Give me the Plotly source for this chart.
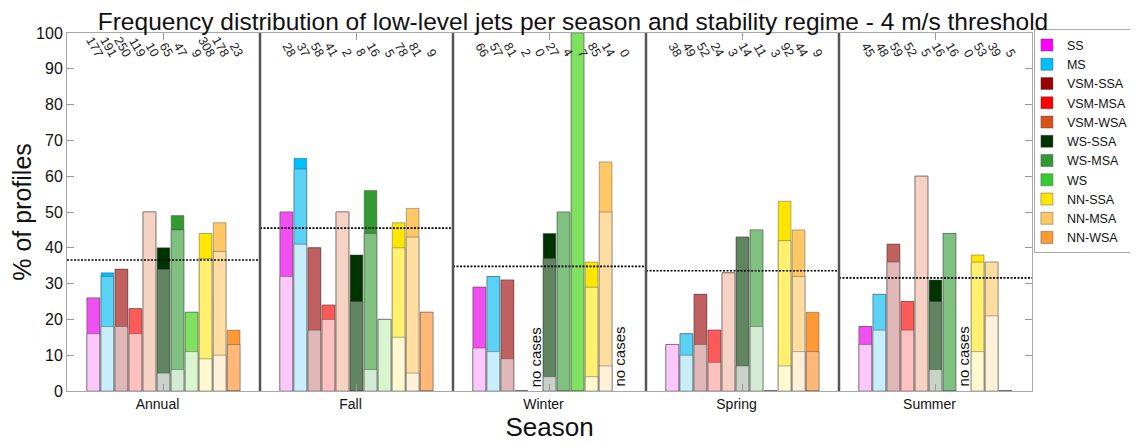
import plotly.graph_objects as go

seasons = ["Annual", "Fall", "Winter", "Spring", "Summer"]
categories = ["SS", "MS", "VSM-SSA", "VSM-MSA", "VSM-WSA", "WS-SSA",
              "WS-MSA", "WS", "NN-SSA", "NN-MSA", "NN-WSA"]

# number of profiles per season (rows) and category (columns)
counts = {
    "Annual": [177, 191, 250, 119, 10, 65, 47, 9, 308, 178, 23],
    "Fall":   [28, 37, 58, 41, 2, 8, 16, 5, 78, 81, 9],
    "Winter": [66, 57, 81, 2, 0, 27, 4, 7, 85, 14, 0],
    "Spring": [38, 49, 52, 24, 3, 14, 11, 3, 92, 44, 9],
    "Summer": [45, 48, 59, 52, 5, 16, 16, 0, 53, 39, 5],
}

# % of profiles with LLJ - three nested levels (light / medium / full tiers)
low_pct = {
    "Annual": [16, 18, 18, 16, 50, 5, 6, 11, 9, 10, 0],
    "Fall":   [32, 41, 17, 20, 50, 0, 6, 20, 15, 5, 0],
    "Winter": [12, 11, 9, 0, 0, 4, 0, 0, 4, 7, 0],
    "Spring": [13, 10, 13, 8, 33, 7, 18, 0, 7, 11, 0],
    "Summer": [13, 17, 36, 17, 60, 6, 0, 0, 11, 21, 0],
}
mid_pct = {
    "Annual": [26, 32, 34, 23, 50, 34, 45, 22, 37, 39, 13],
    "Fall":   [50, 62, 40, 24, 50, 25, 44, 20, 40, 43, 22],
    "Winter": [29, 32, 31, 0, 0, 37, 50, 100, 29, 50, 0],
    "Spring": [13, 16, 27, 17, 33, 43, 45, 0, 42, 32, 11],
    "Summer": [18, 27, 41, 25, 60, 25, 44, 0, 36, 36, 0],
}
top_pct = {
    "Annual": [26, 33, 34, 23, 50, 40, 49, 22, 44, 47, 17],
    "Fall":   [50, 65, 40, 24, 50, 38, 56, 20, 47, 51, 22],
    "Winter": [29, 32, 31, 0, 0, 44, 50, 100, 36, 64, 0],
    "Spring": [13, 16, 27, 17, 33, 43, 45, 0, 53, 45, 22],
    "Summer": [18, 27, 41, 25, 60, 31, 44, 0, 38, 36, 0],
}
# overall mean per season (dotted line)
season_mean = [36.6, 45.5, 34.8, 33.6, 31.6]

full_colors = ["#ff00ff", "#00bfff", "#990000", "#ff0000", "#d95319", "#003300",
               "#339933", "#33cc33", "#ffe600", "#ffc864", "#ff9933"]
mid_colors = ["#f050f0", "#5ad2f5", "#c06060", "#ff5a5a", "#e8946e", "#608560",
              "#80c080", "#80e060", "#fff070", "#ffdca0", "#ffb878"]
light_colors = ["#fcc8fc", "#c8eefa", "#e0b8b8", "#ffc0c0", "#f5d2c3", "#c8d2c8",
                "#d2ebd2", "#d8f5d0", "#fff8d0", "#fff0d8", "#ffd8b0"]

pitch = 0.0727
bw = 0.0658
gx = list(range(1, len(seasons) + 1))

fig = go.Figure()
edge = dict(color="rgba(60,60,60,0.4)", width=1)

for i, cat in enumerate(categories):
    xs = [g + (i - 5) * pitch for g in gx]
    def vals(d):
        return [None if counts[s][i] == 0 else d[s][i] for s in seasons]
    fig.add_trace(go.Bar(x=xs, y=vals(top_pct), width=bw, name=cat,
                         marker=dict(color=full_colors[i], line=edge),
                         showlegend=True))
    fig.add_trace(go.Bar(x=xs, y=vals(mid_pct), width=bw, showlegend=False,
                         marker=dict(color=mid_colors[i], line=edge)))
    fig.add_trace(go.Bar(x=xs, y=vals(low_pct), width=bw, showlegend=False,
                         marker=dict(color=light_colors[i], line=edge)))

# dotted seasonal mean lines
for g, m in zip(gx, season_mean):
    fig.add_trace(go.Scatter(x=[g - 0.5, g + 0.5], y=[m, m], mode="lines",
                             line=dict(color="black", width=1.6, dash="2px,1.5px"),
                             showlegend=False, hoverinfo="skip"))

annotations = []
for gi, s in enumerate(seasons):
    for i in range(len(categories)):
        x = gx[gi] + (i - 5) * pitch
        annotations.append(dict(x=x, y=91.8, text=str(counts[s][i]), showarrow=False,
                                textangle=60, xanchor="right", yanchor="bottom",
                                xshift=15, font=dict(size=12.5, color="#222")))
        if counts[s][i] == 0:
            annotations.append(dict(x=x, y=0.6, text="no cases", showarrow=False,
                                    textangle=-90, xanchor="center", yanchor="bottom",
                                    font=dict(size=15, color="#111")))

shapes = [dict(type="line", xref="x", yref="y", x0=g + 0.5, x1=g + 0.5, y0=0, y1=100,
               line=dict(color="#555555", width=2.5)) for g in gx[:-1]]

# the page body adds an 8px offset; the figure is sized to fill the rest of the window
fig.update_layout(
    width=1130, height=436,
    margin=dict(l=59, r=106, t=25, b=53, autoexpand=False),
    plot_bgcolor="white", paper_bgcolor="white",
    barmode="overlay",
    font=dict(family="Liberation Sans, Arial, sans-serif", color="#111"),
    title=dict(text="Frequency distribution of low-level jets per season and stability regime - 4 m/s threshold",
               x=0.5, xanchor="center", y=0.988, yanchor="top", pad=dict(t=0, b=0),
               font=dict(size=24.5, color="#111")),
    xaxis=dict(range=[0.5, 5.5], tickvals=gx, ticktext=seasons, showgrid=False,
               zeroline=False, showline=True, linecolor="#a8a8a8", linewidth=1, mirror="ticks",
               ticks="inside", ticklen=7, tickcolor="#999", tickfont=dict(size=14),
               ticklabelshift=-6,
               title=dict(text="Season", font=dict(size=26), standoff=2)),
    yaxis=dict(range=[0, 100], tickvals=list(range(0, 101, 10)), showgrid=False,
               zeroline=False, showline=True, linecolor="#a8a8a8", linewidth=1, mirror="ticks",
               ticks="inside", ticklen=7, tickcolor="#999", tickfont=dict(size=16),
               title=dict(text="% of profiles", font=dict(size=25), standoff=6)),
    legend=dict(x=1.002, xanchor="left", y=1.01, yanchor="top", maxheight=420,
                bordercolor="#a8a8a8", borderwidth=1, font=dict(size=12.5),
                indentation=-8, itemwidth=30, tracegroupgap=0, traceorder="normal"),
    annotations=annotations,
    shapes=shapes,
)

fig.write_html("out.html")
